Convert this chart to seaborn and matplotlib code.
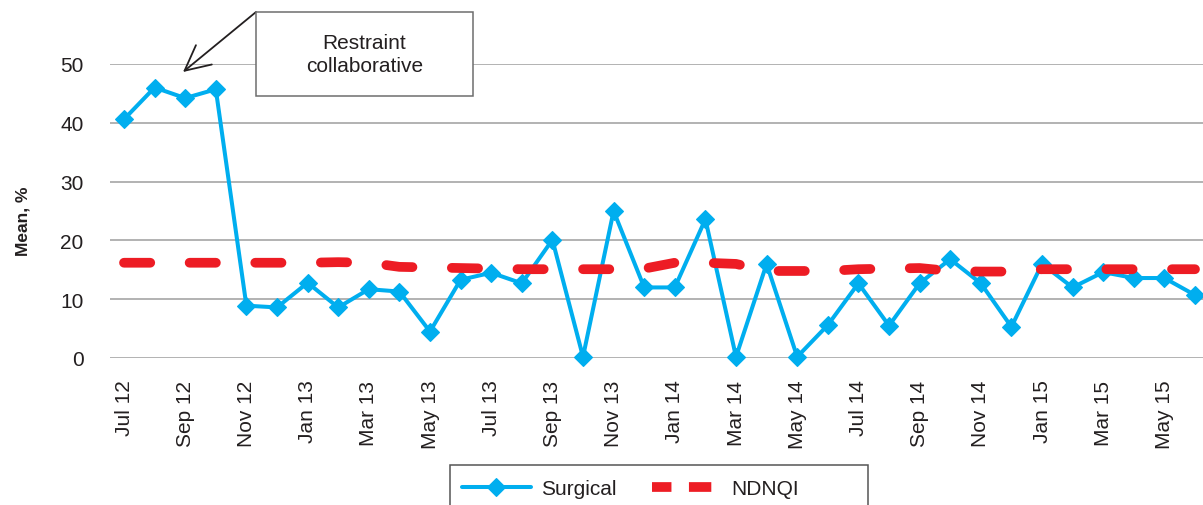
import matplotlib.pyplot as plt
import matplotlib.patches as mpatches
from matplotlib.lines import Line2D
import pandas as pd
import seaborn as sns

# month categories (Jul 2012 - Jun 2015)
months = ['Jul 12', 'Aug 12', 'Sep 12', 'Oct 12', 'Nov 12', 'Dec 12',
          'Jan 13', 'Feb 13', 'Mar 13', 'Apr 13', 'May 13', 'Jun 13',
          'Jul 13', 'Aug 13', 'Sep 13', 'Oct 13', 'Nov 13', 'Dec 13',
          'Jan 14', 'Feb 14', 'Mar 14', 'Apr 14', 'May 14', 'Jun 14',
          'Jul 14', 'Aug 14', 'Sep 14', 'Oct 14', 'Nov 14', 'Dec 14',
          'Jan 15', 'Feb 15', 'Mar 15', 'Apr 15', 'May 15', 'Jun 15']

surgical = [40.6, 46.0, 44.2, 45.7, 8.9, 8.6, 12.8, 8.6, 11.7, 11.3, 4.5, 13.3,
            14.5, 12.7, 20.1, 0.2, 25.0, 12.0, 12.0, 23.6, 0.2, 16.0, 0.2, 5.6,
            12.7, 5.5, 12.7, 16.8, 12.7, 5.3, 16.0, 12.0, 14.6, 13.6, 13.6, 10.7]

ndnqi = [16.2, 16.2, 16.2, 16.2, 16.2, 16.2, 16.2, 16.3, 16.2, 15.5, 15.4, 15.3,
         15.2, 15.1, 15.1, 15.1, 15.1, 15.2, 16.2, 16.2, 16.0, 14.8, 14.8, 14.8,
         15.1, 15.2, 15.3, 14.8, 14.7, 14.7, 15.1, 15.1, 15.1, 15.1, 15.1, 15.1]

tick_labels = months[::2]

df = pd.DataFrame({'idx': range(len(months)), 'month': months,
                   'Surgical': surgical, 'NDNQI': ndnqi})

sns.set_style('white')
plt.rcParams['font.family'] = ['Liberation Sans', 'DejaVu Sans']
text_color = '#231f20'
blue = '#00aeef'
red = '#ed1c24'

W, H = 1203, 506
fig = plt.figure(figsize=(W / 100, H / 100), dpi=100)
ax = fig.add_axes([110 / W, (H - 359) / H, (W - 110) / W, 294 / H])

sns.lineplot(data=df, x='idx', y='Surgical', ax=ax, color=blue, lw=2.9,
             marker='D', markersize=9.5, markeredgewidth=0.8,
             markeredgecolor=blue, clip_on=False, zorder=3, legend=False)
sns.lineplot(data=df, x='idx', y='NDNQI', ax=ax, color=red, lw=7,
             linestyle=(0, (2.7, 4.05)), dash_capstyle='round',
             clip_on=False, zorder=4, legend=False)

ax.set_xlim(-14 / 30.6, (1203 - 124) / 30.6)
ax.set_ylim(0, 50)
ax.set_yticks(range(0, 51, 10))
ax.set_xticks(range(0, len(months), 2))
ax.set_xticklabels(tick_labels, rotation=90)
ax.tick_params(axis='x', length=0, pad=15.5, labelsize=15, labelcolor=text_color)
ax.tick_params(axis='y', length=0, pad=19, labelsize=15, labelcolor=text_color)
ax.grid(axis='y', color='#a6a6a6', lw=1.2)
ax.grid(axis='x', visible=False)
for s in ax.spines.values():
    s.set_visible(False)

ax.set_xlabel('')
ax.set_ylabel('Mean, %', fontsize=12.5, fontweight='bold', color=text_color)
ax.yaxis.set_label_coords(-0.073, 0.47)

# annotation box
box = mpatches.Rectangle((256 / W, (H - 97) / H), 217 / W, 84 / H,
                         transform=fig.transFigure, facecolor='white',
                         edgecolor='#6d6d6d', lw=1.1, zorder=5)
fig.patches.append(box)
fig.text(364.5 / W, (H - 55) / H, 'Restraint\ncollaborative', ha='center',
         va='center', fontsize=15, color=text_color, linespacing=1.3, zorder=6)
ax.annotate('', xy=((183 - 124) / 30.6, (359 - 73) / 5.88), xycoords='data',
            xytext=(256 / W, (H - 13) / H), textcoords='figure fraction',
            arrowprops=dict(arrowstyle='->,head_length=0.9,head_width=0.45',
                            color='#231f20', lw=1.3, mutation_scale=20,
                            shrinkA=0, shrinkB=0))

# legend
leg_box = mpatches.Rectangle((450 / W, -0.05), 418 / W, (H - 466) / H + 0.05,
                             transform=fig.transFigure, facecolor='white',
                             edgecolor='#555555', lw=1.1, zorder=5)
fig.patches.append(leg_box)
handles = [Line2D([], [], color=blue, lw=2.9, marker='D', markersize=9.5,
                  markeredgewidth=0.8, markeredgecolor=blue),
           Line2D([], [], color=red, lw=7, linestyle=(0.3, (2.3, 1.8)),
                  dash_capstyle='butt')]
leg = fig.legend(handles, ['Surgical', 'NDNQI'], loc='center left', ncol=2,
                 frameon=False, bbox_to_anchor=(462 / W, (H - 490) / H),
                 borderaxespad=0, borderpad=0, handlelength=3.3,
                 handletextpad=0.5, columnspacing=1.7, fontsize=15)
for t in leg.get_texts():
    t.set_color(text_color)
leg.set_zorder(7)

fig.savefig('out.png', dpi=100)
